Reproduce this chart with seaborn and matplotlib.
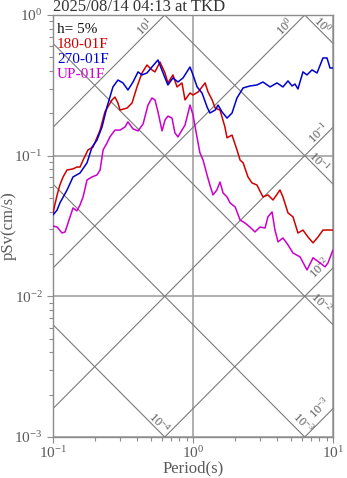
import numpy as np
import pandas as pd
import matplotlib
matplotlib.use("Agg")
import matplotlib.pyplot as plt
import seaborn as sns

# ---- event / station info ----
TITLE = "2025/08/14 04:13 at TKD"
DAMPING = "h= 5%"

# ---- pseudo-velocity response spectra (period in s, pSv in cm/s) ----
period_180 = [0.100, 0.107, 0.112, 0.118, 0.126, 0.139, 0.148, 0.156, 0.164, 0.178,
              0.193, 0.217, 0.235, 0.264, 0.277, 0.291, 0.301, 0.338, 0.367, 0.398,
              0.432, 0.469, 0.509, 0.535, 0.581, 0.631, 0.662, 0.719, 0.769, 0.834,
              0.877, 0.952, 1.00, 1.09, 1.22, 1.28, 1.37, 1.44, 1.56, 1.69,
              1.75, 1.90, 2.06, 2.17, 2.28, 2.47, 2.64, 2.86, 3.16, 3.43,
              3.73, 4.18, 4.39, 4.77, 5.18, 5.62, 6.10, 6.63, 7.20, 7.81,
              8.48, 9.52, 10.0]
psv_180 = [0.0392, 0.0526, 0.0619, 0.0706, 0.0791, 0.0805, 0.083, 0.083, 0.093, 0.110,
           0.115, 0.152, 0.205, 0.249, 0.261, 0.237, 0.211, 0.218, 0.237, 0.308,
           0.387, 0.441, 0.407, 0.394, 0.463, 0.387, 0.329, 0.375, 0.308, 0.329,
           0.249, 0.279, 0.270, 0.284, 0.329, 0.284, 0.249, 0.218, 0.211, 0.160,
           0.134, 0.140, 0.110, 0.093, 0.089, 0.0706, 0.064, 0.0619, 0.0509, 0.0526,
           0.0484, 0.057, 0.0509, 0.0392, 0.0367, 0.0282, 0.0296, 0.0264, 0.024, 0.0264,
           0.0296, 0.0296, 0.0296]

period_270 = [0.100, 0.107, 0.112, 0.126, 0.139, 0.156, 0.175, 0.190, 0.206, 0.224,
              0.243, 0.268, 0.291, 0.316, 0.343, 0.373, 0.405, 0.432, 0.469, 0.509,
              0.562, 0.631, 0.662, 0.719, 0.781, 0.849, 0.952, 1.00, 1.07, 1.16,
              1.26, 1.32, 1.44, 1.51, 1.61, 1.75, 1.90, 2.06, 2.28, 2.55,
              2.86, 3.16, 3.55, 3.98, 4.39, 4.77, 5.10, 5.35, 5.62, 6.10,
              6.52, 7.08, 7.69, 8.48, 9.06, 9.52, 10.0]
psv_270 = [0.0379, 0.0411, 0.0461, 0.057, 0.0706, 0.0753, 0.089, 0.115, 0.129, 0.160,
           0.222, 0.308, 0.345, 0.329, 0.293, 0.334, 0.394, 0.375, 0.387, 0.427,
           0.479, 0.357, 0.318, 0.357, 0.334, 0.357, 0.427, 0.375, 0.308, 0.279,
           0.222, 0.201, 0.211, 0.229, 0.205, 0.185, 0.201, 0.257, 0.303, 0.313,
           0.318, 0.334, 0.308, 0.329, 0.308, 0.340, 0.313, 0.323, 0.298, 0.394,
           0.375, 0.407, 0.387, 0.495, 0.495, 0.420, 0.420]

period_up = [0.100, 0.107, 0.116, 0.122, 0.128, 0.139, 0.148, 0.156, 0.164, 0.175,
             0.190, 0.206, 0.217, 0.228, 0.243, 0.255, 0.277, 0.301, 0.327, 0.343,
             0.373, 0.405, 0.440, 0.477, 0.509, 0.535, 0.562, 0.601, 0.631, 0.662,
             0.708, 0.743, 0.781, 0.834, 0.877, 0.952, 1.00, 1.07, 1.12, 1.18,
             1.26, 1.32, 1.39, 1.48, 1.56, 1.64, 1.75, 1.84, 2.00, 2.17,
             2.35, 2.55, 2.77, 3.01, 3.27, 3.43, 3.67, 3.85, 4.05, 4.39,
             4.77, 5.18, 5.81, 6.52, 7.20, 8.07, 8.77, 9.21, 10.0]
psv_up = [0.0316, 0.0311, 0.0282, 0.0287, 0.0332, 0.0425, 0.0405, 0.0446, 0.0509, 0.0672,
          0.0706, 0.0729, 0.0791, 0.110, 0.123, 0.136, 0.152, 0.152, 0.160, 0.174,
          0.155, 0.150, 0.168, 0.229, 0.257, 0.249, 0.205, 0.150, 0.179, 0.191,
          0.185, 0.145, 0.136, 0.152, 0.165, 0.229, 0.195, 0.134, 0.105, 0.093,
          0.0729, 0.0619, 0.0526, 0.057, 0.065, 0.0543, 0.0509, 0.0461, 0.0432, 0.0349,
          0.0332, 0.0311, 0.0287, 0.0311, 0.0306, 0.0367, 0.0398, 0.0296, 0.0244, 0.0260,
          0.0232, 0.0203, 0.0191, 0.0154, 0.0188, 0.0173, 0.0162, 0.0173, 0.0214]

components = ["180-01F", "270-01F", "UP-01F"]
comp_colors = ["#d00000", "#0000d0", "#cc00cc"]

# tripartite guide levels
accel_levels = [1e1, 1e0, 1e-1, 1e-2, 1e-3]      # pSa, cm/s^2
disp_levels = [1e0, 1e-1, 1e-2, 1e-3, 1e-4]      # Sd, cm

XLIM = (0.1, 10.0)
YLIM = (1e-3, 1.0)

# ---- style ----
sns.set_theme(style="ticks")
plt.rcParams["font.family"] = ["Liberation Serif", "DejaVu Serif"]
plt.rcParams["mathtext.fontset"] = "custom"
plt.rcParams["mathtext.rm"] = "Liberation Serif"
plt.rcParams["mathtext.it"] = "Liberation Serif:italic"
plt.rcParams["mathtext.bf"] = "Liberation Serif:bold"

GRID = "#9a9a9a"
GUIDE = "#7a7a7a"
AXC = "#8c8c8c"
TXT = "#5a5a5a"

W, H = 347, 478
fig = plt.figure(figsize=(W / 100, H / 100), dpi=100)
L, R, T, B = 53, 333, 15, 437
ax = fig.add_axes([L / W, 1 - B / H, (R - L) / W, (B - T) / H])
ax.set_xscale("log")
ax.set_yscale("log")
ax.set_xlim(*XLIM)
ax.set_ylim(*YLIM)

# tripartite diagonal lines
tt = np.array(XLIM)
for sa in accel_levels:
    ax.plot(tt, sa * tt / (2 * np.pi), color=GUIDE, lw=0.8, zorder=1)
for sd in disp_levels:
    ax.plot(tt, 2 * np.pi * sd / tt, color=GUIDE, lw=0.8, zorder=1)


def exp_label(v):
    return r"$10^{%d}$" % int(round(np.log10(v)))


# labels near the end of each guide line (pixel offsets from the exit point)
accel_offsets = {1e1: (-20, -12), 1e0: (-20, -12), 1e-1: (-14, -6),
                 1e-2: (-13, 0), 1e-3: (-13, 1)}
disp_offsets = {1e0: (-11, 19), 1e-1: (-14, 22), 1e-2: (-12, 22),
                1e-3: (-2, 14), 1e-4: (-6, 14)}

for sa in accel_levels:
    t_end = min(XLIM[1], 2 * np.pi * YLIM[1] / sa)
    v_end = sa * t_end / (2 * np.pi)
    ax.annotate(exp_label(sa), xy=(t_end, v_end), xytext=accel_offsets[sa],
                textcoords="offset pixels", rotation=45, ha="center", va="center",
                fontsize=9, color=TXT, annotation_clip=False)
for sd in disp_levels:
    t_end = min(XLIM[1], 2 * np.pi * sd / YLIM[0])
    v_end = 2 * np.pi * sd / t_end
    ax.annotate(exp_label(sd), xy=(t_end, v_end), xytext=disp_offsets[sd],
                textcoords="offset pixels", rotation=-45, ha="center", va="center",
                fontsize=9, color=TXT, annotation_clip=False)

# spectra
df = pd.concat([
    pd.DataFrame({"period": period_180, "psv": psv_180, "comp": components[0]}),
    pd.DataFrame({"period": period_270, "psv": psv_270, "comp": components[1]}),
    pd.DataFrame({"period": period_up, "psv": psv_up, "comp": components[2]}),
], ignore_index=True)
sns.lineplot(data=df, x="period", y="psv", hue="comp", hue_order=components,
             palette=comp_colors, sort=False, estimator=None, legend=False,
             lw=1.1, ax=ax, zorder=3)

ax.set_xlim(*XLIM)
ax.set_ylim(*YLIM)
ax.grid(True, which="major", color=GRID, lw=1.1)
ax.set_axisbelow(True)
for s in ax.spines.values():
    s.set_color(AXC)
    s.set_linewidth(1.0)

ax.tick_params(which="both", direction="out", color=AXC, labelcolor=TXT,
               labelsize=11, top=False, right=False, width=0.8)
ax.tick_params(which="major", length=4)
ax.tick_params(which="minor", length=3)
ax.tick_params(axis="x", which="major", pad=1.5)
ax.xaxis.set_minor_formatter(matplotlib.ticker.NullFormatter())
ax.yaxis.set_minor_formatter(matplotlib.ticker.NullFormatter())
ax.set_xlabel("")
ax.set_ylabel("")

# axis titles
fig.text(193 / W, 1 - 468 / H, "Period(s)", fontsize=12, color=TXT,
         ha="center", va="center")
fig.text(9 / W, 1 - 226 / H, "pSv(cm/s)", fontsize=12, color=TXT,
         rotation=90, ha="center", va="center")

# title and legend text
fig.text(L / W, 1 - 11 / H, TITLE, fontsize=12, color="#333333",
         ha="left", va="baseline")
legend_rows = [(DAMPING, "#111111")] + list(zip(components, comp_colors))
for i, (lab, col) in enumerate(legend_rows):
    yb = 33 + 15 * i
    ax.text((57 - L) / (R - L), (B - yb) / (B - T), lab, transform=ax.transAxes,
            fontsize=11, color=col, ha="left", va="baseline", zorder=4)

fig.savefig("out.png", dpi=100)
